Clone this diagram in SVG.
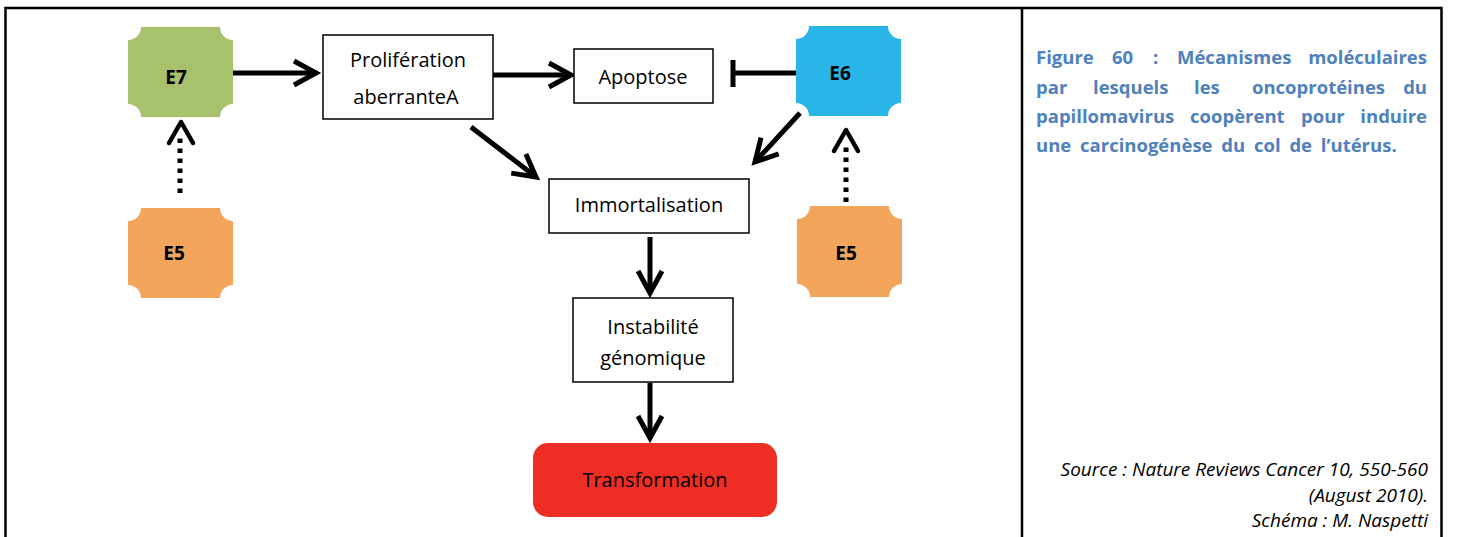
<svg xmlns="http://www.w3.org/2000/svg" width="1458" height="537" viewBox="0 0 1458 537">
<style>
.frame{stroke:#000;stroke-width:2.5;fill:none}
.box{fill:#fff;stroke:#000;stroke-width:1.5}
.lbl{font-family:"Open Sans","Noto Sans",sans-serif;font-size:20px;fill:#000;text-anchor:middle}
.elbl{font-family:"Open Sans","Noto Sans",sans-serif;font-size:19px;font-weight:bold;fill:#000;text-anchor:middle}
.cap{font-family:"Open Sans","Noto Sans",sans-serif;font-size:18.5px;font-weight:bold;fill:#4F81BD}
.src{font-family:"Open Sans","Noto Sans",sans-serif;font-size:19px;font-style:italic;fill:#000;text-anchor:end}
.shaft{stroke:#000;stroke-width:5;fill:none}
.dot{stroke:#000;stroke-width:5;fill:none;stroke-dasharray:4.5 5.5}
.dhead{stroke:#000;stroke-width:4.5;fill:none;stroke-linecap:round;stroke-linejoin:round}
</style>
<defs>
<marker id="arr" markerUnits="userSpaceOnUse" viewBox="-40 -20 50 40" markerWidth="50" markerHeight="40" refX="0" refY="0" orient="auto">
<path d="M -22 -12 L 0 0 L -22 12" stroke="#000" stroke-width="5" fill="none" stroke-miterlimit="10"/>
</marker>
</defs>
<rect width="1458" height="537" fill="#fff"/>
<g id="frame">
<path class="frame" d="M5.5 540 V8 H1441.5 V540 M1022 8 V540"/>
</g>
<g id="connectors">
<line class="shaft" x1="233" y1="73" x2="316" y2="73" marker-end="url(#arr)"/>
<line class="shaft" x1="493" y1="75" x2="571" y2="75" marker-end="url(#arr)"/>
<line class="shaft" x1="796" y1="73" x2="733" y2="73"/>
<line class="shaft" x1="733" y1="60" x2="733" y2="87"/>
<line class="shaft" x1="471" y1="127" x2="536" y2="177" marker-end="url(#arr)"/>
<line class="shaft" x1="800" y1="113" x2="755" y2="162" marker-end="url(#arr)"/>
<line class="shaft" x1="650" y1="237" x2="650" y2="293" marker-end="url(#arr)"/>
<line class="shaft" x1="650" y1="383" x2="650" y2="438" marker-end="url(#arr)"/>
<line class="dot" x1="180" y1="193" x2="180" y2="136"/>
<path class="dhead" d="M169 143 L181 122 L193 143"/>
<line class="dot" x1="846" y1="202" x2="846" y2="146"/>
<path class="dhead" d="M834 151 L846 130 L858 151"/>
</g>
<g id="E7">
<path fill="#A8C16C" d="M141 27 H220 A13 13 0 0 0 233 40 V104 A13 13 0 0 0 220 117 H141 A13 13 0 0 0 128 104 V40 A13 13 0 0 0 141 27 Z"/>
<text class="elbl" x="176" y="84">E7</text>
</g>
<g id="E6">
<path fill="#29B5E8" d="M809 26 H888 A13 13 0 0 0 901 39 V103 A13 13 0 0 0 888 116 H809 A13 13 0 0 0 796 103 V39 A13 13 0 0 0 809 26 Z"/>
<text class="elbl" x="840" y="80">E6</text>
</g>
<g id="E5-left">
<path fill="#F3A55C" d="M141 208 H220 A13 13 0 0 0 233 221 V285 A13 13 0 0 0 220 298 H141 A13 13 0 0 0 128 285 V221 A13 13 0 0 0 141 208 Z"/>
<text class="elbl" x="174" y="260">E5</text>
</g>
<g id="E5-right">
<path fill="#F3A55C" d="M810 206 H889 A13 13 0 0 0 902 219 V284 A13 13 0 0 0 889 297 H810 A13 13 0 0 0 797 284 V219 A13 13 0 0 0 810 206 Z"/>
<text class="elbl" x="846" y="260">E5</text>
</g>
<g id="proliferation">
<rect class="box" x="323" y="35" width="170" height="84"/>
<text class="lbl" x="408" y="67">Prolifération</text>
<text class="lbl" x="406" y="104">aberranteA</text>
</g>
<g id="apoptose">
<rect class="box" x="574" y="49" width="139" height="54"/>
<text class="lbl" x="643" y="84">Apoptose</text>
</g>
<g id="immortalisation">
<rect class="box" x="549" y="179" width="200" height="54"/>
<text class="lbl" x="649" y="212">Immortalisation</text>
</g>
<g id="instabilite">
<rect class="box" x="573" y="298" width="160" height="84"/>
<text class="lbl" x="653" y="334">Instabilité</text>
<text class="lbl" x="653" y="365">génomique</text>
</g>
<g id="transformation">
<rect x="533" y="443" width="244" height="74" rx="15" fill="#EE2E24"/>
<text class="lbl" x="655" y="487">Transformation</text>
</g>
<g id="caption">
<text class="cap" y="64"><tspan x="1036">Figure</tspan><tspan x="1112">60</tspan><tspan x="1153">:</tspan><tspan x="1177">Mécanismes</tspan><tspan x="1427" text-anchor="end">moléculaires</tspan></text>
<text class="cap" y="94"><tspan x="1036">par</tspan><tspan x="1093">lesquels</tspan><tspan x="1194">les</tspan><tspan x="1252">oncoprotéines</tspan><tspan x="1427" text-anchor="end">du</tspan></text>
<text class="cap" y="123"><tspan x="1036">papillomavirus</tspan><tspan x="1190">coopèrent</tspan><tspan x="1301">pour</tspan><tspan x="1427" text-anchor="end">induire</tspan></text>
<text class="cap" x="1036" y="152" word-spacing="4">une carcinogénèse du col de l’utérus.</text>
</g>
<g id="source">
<text class="src" x="1428" y="476">Source : Nature Reviews Cancer 10, 550-560</text>
<text class="src" x="1428" y="502">(August 2010).</text>
<text class="src" x="1428" y="527">Schéma : M. Naspetti</text>
</g>
</svg>
